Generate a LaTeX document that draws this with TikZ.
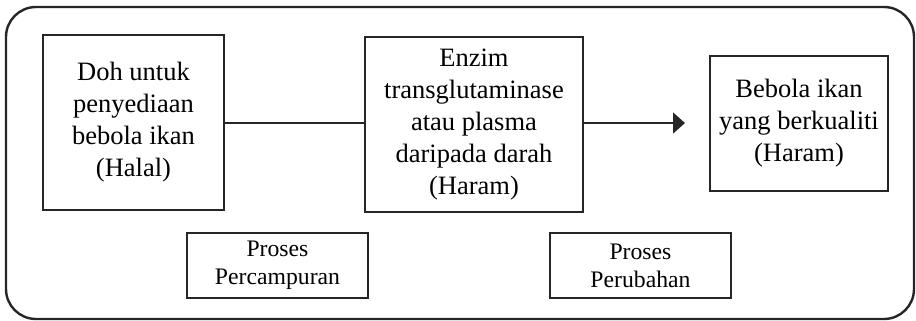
\documentclass[tikz,border=0pt]{standalone}
\usepackage{fontspec}
\setmainfont{Liberation Serif}
\usetikzlibrary{arrows.meta}
\begin{document}
\begin{tikzpicture}[x=1pt,y=-1pt,
  bigbox/.style={draw=black!85,line width=1.4pt,align=center,inner sep=0pt,
    font=\fontsize{26.5}{32}\selectfont},
  procbox/.style={draw=black!85,line width=1.4pt,align=center,inner sep=0pt,
    minimum width=181pt,minimum height=65pt,font=\fontsize{23.7}{28}\selectfont},
  conn/.style={draw=black!85,line width=1.6pt}]
\useasboundingbox (0,0) rectangle (916,321);
\draw[black!85,line width=2.4pt,rounded corners=30pt] (6,7) rectangle (914,319);
\node[bigbox,minimum width=181pt,minimum height=175pt] (doh) at (133.5,122.5)
  {Doh untuk\\penyediaan\\bebola ikan\\(Halal)};
\node[bigbox,minimum width=218pt,minimum height=175pt] (enzim) at (474,124.5)
  {Enzim\\transglutaminase\\atau plasma\\daripada darah\\(Haram)};
\node[bigbox,minimum width=178pt,minimum height=135pt] (bebola) at (799,123.5)
  {Bebola ikan\\yang berkualiti\\(Haram)};
\node[procbox] (campur) at (277.5,265.5) {Proses\\Percampuran};
\node[procbox] (ubah) at (640.5,265.5) {Proses\\Perubahan};
\coordinate (tip) at (685,123);
\draw[conn] (doh.east |- tip) -- (enzim.west |- tip);
\draw[conn,-{Triangle[length=12pt,width=21pt]}] (enzim.east |- tip) -- (tip);
\end{tikzpicture}
\end{document}
